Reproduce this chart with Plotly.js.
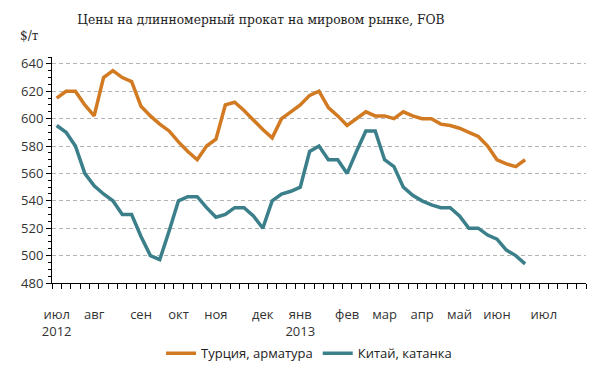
<!DOCTYPE html>
<html>
<head>
<meta charset="utf-8">
<script src="https://cdn.plot.ly/plotly-3.0.1.min.js"></script>
<style>html,body{margin:0;padding:0;background:#fff;}#chart{width:600px;height:380px;}</style>
</head>
<body>
<div id="chart"></div>
<script>
// Weekly categories: July 2012 .. July 2013 (57 weeks), data for first 51
const weekCount = 57;
const monthLabelPos = [0, 4, 9, 13, 17, 22, 26, 31, 35, 39, 43, 47, 52];
const monthLabels = ["июл<br>2012", "авг", "сен", "окт", "ноя", "дек", "янв<br>2013", "фев", "мар", "апр", "май", "июн", "июл"];

const turkeyName = "Турция, арматура";
const turkey = [615, 620, 620, 610, 602, 630, 635, 630, 627, 609, 602, 596, 591, 583, 576, 570, 580, 585, 610, 612, 606, 599, 592, 586, 600, 605, 610, 617, 620, 608, 602, 595, 600, 605, 602, 602, 600, 605, 602, 600, 600, 596, 595, 593, 590, 587, 580, 570, 567, 565, 570];

const chinaName = "Китай, катанка";
const china = [595, 590, 580, 560, 551, 545, 540, 530, 530, 514, 500, 497, 518, 540, 543, 543, 535, 528, 530, 535, 535, 529, 520, 540, 545, 547, 550, 576, 580, 570, 570, 560, 576, 591, 591, 570, 565, 550, 544, 540, 537, 535, 535, 529, 520, 520, 515, 512, 504, 500, 494];

const weeks = turkey.map((_, i) => i);

const traces = [
  {x: weeks, y: turkey, name: turkeyName, type: 'scatter', mode: 'lines',
   line: {color: '#D27A22', width: 3.5}},
  {x: weeks, y: china, name: chinaName, type: 'scatter', mode: 'lines',
   line: {color: '#3A7F89', width: 3.5}}
];

const tickFont = {family: 'Open Sans, sans-serif', size: 13, color: '#333'};

const layout = {
  width: 600, height: 380,
  margin: {l: 52, r: 14, t: 57, b: 93},
  paper_bgcolor: '#fff', plot_bgcolor: '#fff',
  title: {text: 'Цены на длинномерный прокат на мировом рынке, FOB',
          font: {family: 'DejaVu Serif, serif', size: 12.3, color: '#222'},
          x: 261/600, xanchor: 'center', y: 1 - 20/380, yanchor: 'middle'},
  xaxis: {
    range: [-0.5, weekCount - 0.5], fixedrange: true,
    showgrid: false, zeroline: false,
    showline: true, linecolor: '#000', linewidth: 1,
    tickmode: 'array', tickvals: monthLabelPos, ticktext: monthLabels,
    ticks: '', ticklabelstandoff: 19, tickfont: tickFont,
    minor: {tick0: -0.5, dtick: 1, ticks: 'outside', ticklen: 5, tickcolor: '#000', tickwidth: 1, showgrid: false}
  },
  yaxis: {
    range: [480, 645], fixedrange: true,
    tickmode: 'linear', tick0: 480, dtick: 20,
    ticks: 'outside', ticklen: 5, tickcolor: '#000', tickwidth: 1,
    showline: true, linecolor: '#000', linewidth: 1,
    showgrid: true, gridcolor: '#b5b5b5', griddash: '4px,3px', gridwidth: 1,
    zeroline: false, tickfont: tickFont,
    minor: {dtick: 5, ticks: 'outside', ticklen: 3, tickcolor: '#000', tickwidth: 1, showgrid: false}
  },
  showlegend: true,
  legend: {orientation: 'h', x: (309-52)/534, xanchor: 'center', y: (286.7-358)/229.4, yanchor: 'middle',
           font: {family: 'Open Sans, sans-serif', size: 13, color: '#222'}, itemwidth: 30, bgcolor: 'rgba(0,0,0,0)'},
  annotations: [
    {text: '$/т', xref: 'paper', yref: 'paper', x: (18-52)/534, y: (286.7-36)/229.4,
     xanchor: 'left', yanchor: 'middle', showarrow: false,
     font: {family: 'DejaVu Serif, serif', size: 12, color: '#222'}}
  ]
};

Plotly.newPlot('chart', traces, layout, {displayModeBar: false, staticPlot: true});
</script>
</body>
</html>
